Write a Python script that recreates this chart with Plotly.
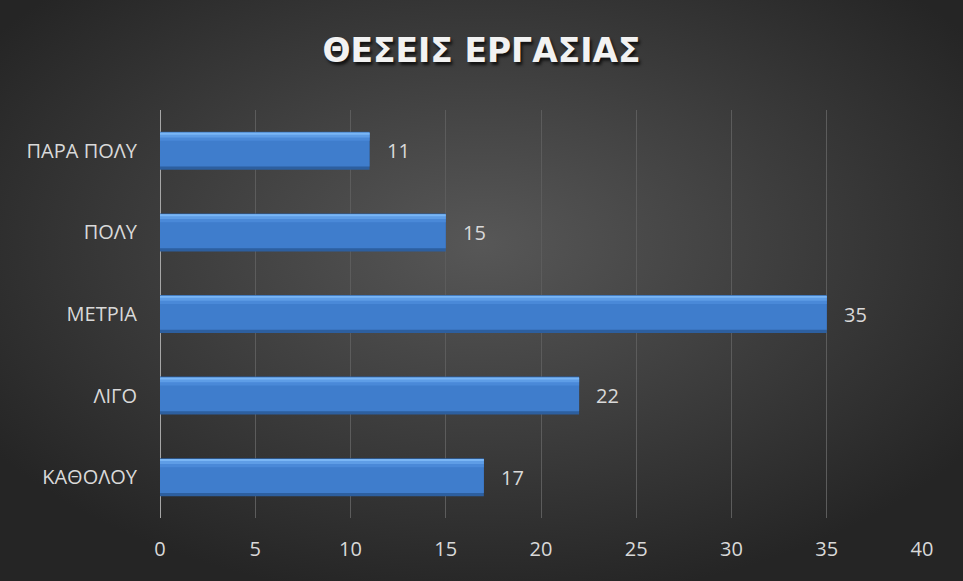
import base64
import plotly.graph_objects as go

# Survey answers (bottom to top) and response counts
categories = ["ΚΑΘΟΛΟΥ", "ΛΙΓΟ", "ΜΕΤΡΙΑ", "ΠΟΛΥ", "ΠΑΡΑ ΠΟΛΥ"]
counts = [17, 22, 35, 15, 11]
x_ticks = [0, 5, 10, 15, 20, 25, 30, 35, 40]
title_text = "ΘΕΣΕΙΣ ΕΡΓΑΣΙΑΣ"

W, H = 963, 581
M_L, M_R, M_T, M_B = 160, 41, 110, 63
PW, PH = W - M_L - M_R, H - M_T - M_B

label_color = "#d9d9d9"
bar_w = 0.466

# Dark radial backdrop as an inline SVG
svg = (
    f'<svg xmlns="http://www.w3.org/2000/svg" width="{W}" height="{H}">'
    '<defs><radialGradient id="g" cx="50%" cy="42%" r="62%">'
    '<stop offset="0%" stop-color="#575757"/>'
    '<stop offset="100%" stop-color="#252525"/>'
    '</radialGradient></defs>'
    f'<rect width="{W}" height="{H}" fill="url(#g)"/></svg>'
)
bg_uri = "data:image/svg+xml;base64," + base64.b64encode(svg.encode()).decode()

fig = go.Figure()

# Bevelled bars: dark rim, body, and light strips along the top edge
layers = [
    (bar_w, -bar_w / 2, "#2d5f9f"),
    (bar_w - 0.08, -(bar_w - 0.08) / 2, "#3f7dcc"),
    (0.10, bar_w / 2 - 0.11, "#4a89d8"),
    (0.055, bar_w / 2 - 0.07, "#5e9de6"),
    (0.025, bar_w / 2 - 0.035, "#7ab6f5"),
]
for w, off, col in layers:
    fig.add_trace(go.Bar(
        y=categories, x=counts, orientation="h",
        width=w, offset=off,
        marker=dict(color=col, line=dict(width=0)),
        hoverinfo="skip",
    ))

# Value labels just past the end of each bar
for cat, val in zip(categories, counts):
    fig.add_annotation(
        x=val, y=cat, text=str(val), showarrow=False,
        xanchor="left", xshift=15,
        font=dict(family="Open Sans", size=20, color=label_color),
    )

fig.update_layout(
    width=W, height=H,
    margin=dict(l=M_L, r=M_R, t=M_T, b=M_B),
    barmode="overlay",
    showlegend=False,
    paper_bgcolor="#2b2b2b",
    plot_bgcolor="rgba(0,0,0,0)",
    images=[dict(
        source=bg_uri, xref="paper", yref="paper",
        x=-M_L / PW, y=1 + M_T / PH, sizex=W / PW, sizey=H / PH,
        xanchor="left", yanchor="top",
        sizing="stretch", layer="below",
    )],
    title=dict(
        text="<b>" + title_text + "</b>",
        x=0.5, xanchor="center", y=0.914, yanchor="middle",
        font=dict(family="DejaVu Sans", size=33, color="#f2f2f2",
                  shadow="2px 3px 3px rgba(0,0,0,0.7)"),
    ),
    xaxis=dict(
        range=[0, 40], tickvals=x_ticks, showgrid=True,
        gridcolor="#5c5c5c", gridwidth=1,
        zeroline=False, showline=False, ticks="",
        ticklabelstandoff=17,
        tickfont=dict(family="Open Sans", size=20, color=label_color),
        fixedrange=True,
    ),
    yaxis=dict(
        categoryorder="array", categoryarray=categories,
        range=[-0.5, 4.5], showgrid=False, zeroline=False,
        showline=False, ticks="", ticklabelstandoff=22,
        tickfont=dict(family="Open Sans", size=20, color=label_color),
        fixedrange=True,
    ),
)

# Category axis line at x = 0
fig.add_shape(type="line", xref="x", yref="paper", x0=0, x1=0, y0=0, y1=1,
              line=dict(color="#a6a6a6", width=2), layer="below")

fig.write_html("out.html")
